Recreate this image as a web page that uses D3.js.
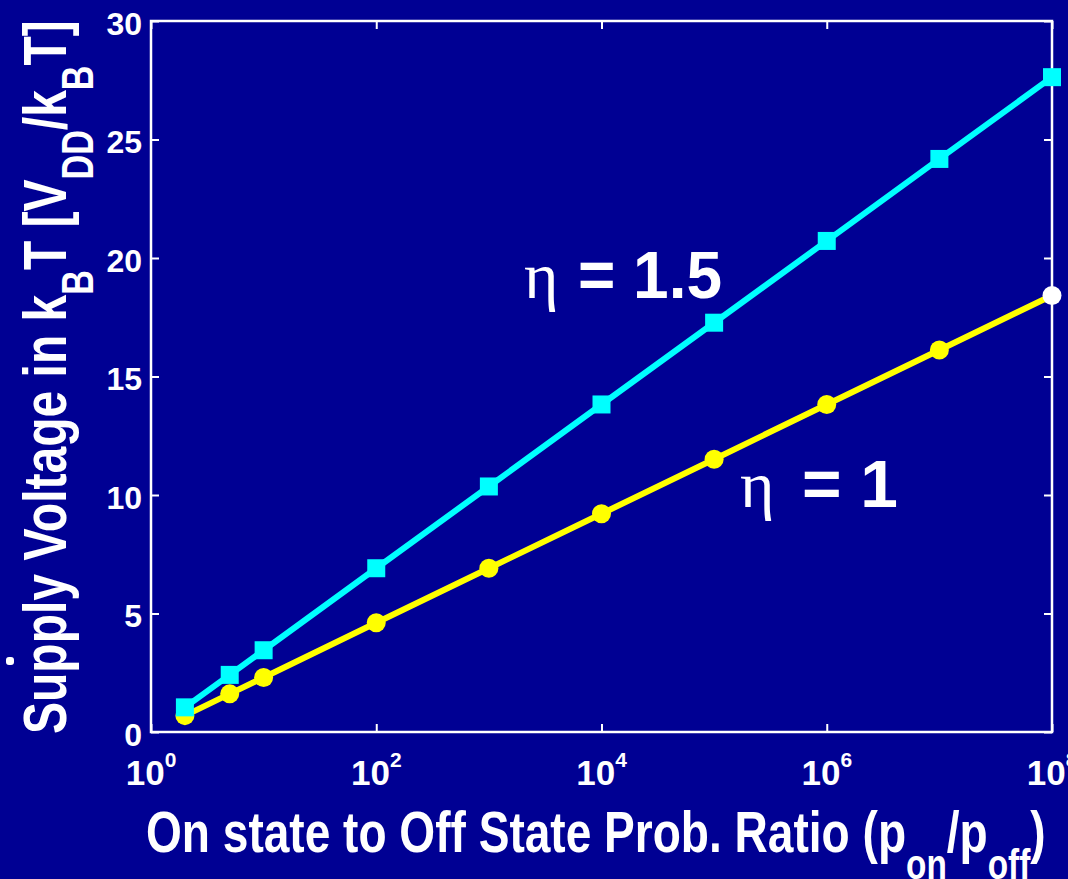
<!DOCTYPE html>
<html>
<head>
<meta charset="utf-8">
<script src="https://cdn.jsdelivr.net/npm/d3@7"></script>
<style>
  html, body { margin: 0; padding: 0; background: #000093; }
  svg { display: block; }
  text { font-family: "Liberation Sans", Arial, sans-serif; fill: #ffffff; }
</style>
</head>
<body>
<script>
// Probability ratio p_on / p_off (x values)
const ratios = [2, 5, 10, 1e2, 1e3, 1e4, 1e5, 1e6, 1e7, 1e8];
// Supply voltage in units of kT for the two ideality factors
const etaHigh = [1.04, 2.41, 3.45, 6.91, 10.36, 13.82, 17.27, 20.72, 24.18, 27.63];
const etaLow = [0.69, 1.61, 2.30, 4.61, 6.91, 9.21, 11.51, 13.82, 16.12, 18.42];
// Axis ticks
const xTickValues = [1, 1e2, 1e4, 1e6, 1e8];
const xTickExponents = ["0", "2", "4", "6", "8"];
const yTickValues = [0, 5, 10, 15, 20, 25, 30];

const W = 1068, H = 879;
const plot = { left: 151, right: 1052, top: 21, bottom: 732 };

const svg = d3.select("body").append("svg")
  .attr("width", W).attr("height", H);

svg.append("rect").attr("width", W).attr("height", H).attr("fill", "#000093");

const x = d3.scaleLog().domain([1, 1e8]).range([plot.left, plot.right]);
const y = d3.scaleLinear().domain([0, 30]).range([plot.bottom, plot.top]);

// Frame
svg.append("rect")
  .attr("x", plot.left).attr("y", plot.top)
  .attr("width", plot.right - plot.left).attr("height", plot.bottom - plot.top)
  .attr("fill", "none").attr("stroke", "#ffffff").attr("stroke-width", 2.5);

function styleAxis(g) {
  g.select(".domain").remove();
  g.selectAll(".tick line").attr("stroke", "#ffffff").attr("stroke-width", 2);
}

// Inward ticks on all four sides
svg.append("g").attr("transform", `translate(0,${plot.bottom})`)
  .call(d3.axisBottom(x).tickValues(xTickValues).tickSize(-8).tickFormat(""))
  .call(styleAxis);
svg.append("g").attr("transform", `translate(0,${plot.top})`)
  .call(d3.axisTop(x).tickValues(xTickValues).tickSize(-8).tickFormat(""))
  .call(styleAxis);
svg.append("g").attr("transform", `translate(${plot.right},0)`)
  .call(d3.axisRight(y).tickValues(yTickValues).tickSize(-8).tickFormat(""))
  .call(styleAxis);

const yAxis = svg.append("g").attr("transform", `translate(${plot.left},0)`)
  .call(d3.axisLeft(y).tickValues(yTickValues).tickSize(-8).tickPadding(9).tickFormat(d3.format("d")))
  .call(styleAxis);
yAxis.selectAll(".tick text")
  .attr("fill", "#ffffff")
  .attr("dy", "0.42em")
  .style("font-family", "'Liberation Sans', Arial, sans-serif")
  .style("font-weight", "bold")
  .style("font-size", "32px");

// X tick labels as powers of ten
const xLabels = svg.append("g");
xTickValues.forEach((v, i) => {
  const t = xLabels.append("text")
    .attr("x", x(v)).attr("y", 785)
    .attr("text-anchor", "middle")
    .style("font-weight", "bold").style("font-size", "35px");
  t.append("tspan").text("10");
  t.append("tspan").attr("dy", -18).style("font-size", "21px").text(xTickExponents[i]);
});

// Series lines and markers
const line = d3.line().x((d, i) => x(ratios[i])).y(d => y(d));

svg.append("path").datum(etaLow)
  .attr("d", line).attr("fill", "none")
  .attr("stroke", "#ffff00").attr("stroke-width", 6).attr("stroke-linejoin", "round");
svg.append("g").selectAll("circle").data(etaLow).join("circle")
  .attr("cx", (d, i) => x(ratios[i])).attr("cy", d => y(d)).attr("r", 9.5)
  .attr("fill", (d, i) => i === etaLow.length - 1 ? "#ffffff" : "#ffff00");

svg.append("path").datum(etaHigh)
  .attr("d", line).attr("fill", "none")
  .attr("stroke", "#00ffff").attr("stroke-width", 6).attr("stroke-linejoin", "round");
svg.append("g").selectAll("rect").data(etaHigh).join("rect")
  .attr("x", (d, i) => x(ratios[i]) - 9).attr("y", d => y(d) - 9)
  .attr("width", 18).attr("height", 18)
  .attr("fill", "#00ffff");

// Fit a text group horizontally (along its own direction) to a target length
function fitText(textSel, targetLen) {
  const bb = textSel.node().getBBox();
  return targetLen / bb.width;
}

// X axis title
{
  const g = svg.append("g");
  const t = g.append("text").attr("x", 0).attr("y", 0)
    .style("font-weight", "bold").style("font-size", "58px");
  t.append("tspan").text("On state to Off State Prob. Ratio (p");
  t.append("tspan").attr("dy", 27).style("font-size", "42px").text("on");
  t.append("tspan").attr("dy", -27).text("/p");
  t.append("tspan").attr("dy", 27).style("font-size", "42px").text("off");
  t.append("tspan").attr("dy", -27).text(")");
  const s = fitText(t, 1046 - 146);
  g.attr("transform", `translate(146,852) scale(${s},1)`);
}

// Y axis title
{
  const g = svg.append("g");
  const t = g.append("text").attr("x", 0).attr("y", 0)
    .style("font-weight", "bold").style("font-size", "62px");
  t.append("tspan").text("Supply Voltage in k");
  t.append("tspan").attr("dy", 27).style("font-size", "44px").text("B");
  t.append("tspan").attr("dy", -27).text("T [V");
  t.append("tspan").attr("dy", 27).style("font-size", "44px").text("DD");
  t.append("tspan").attr("dy", -27).text("/k");
  t.append("tspan").attr("dy", 27).style("font-size", "44px").text("B");
  t.append("tspan").attr("dy", -27).text("T]");
  const s = fitText(t, 734 - 20);
  g.attr("transform", `translate(66,734) rotate(-90) scale(${s},1)`);
}

// Small stray mark left of the y title
svg.append("rect").attr("x", 6).attr("y", 657).attr("width", 8).attr("height", 8)
  .attr("rx", 3).attr("fill", "#ffffff");

// Series annotations
function etaLabel(x0, baseline, valueText, eqStart, eqEnd) {
  svg.append("text").attr("x", x0).attr("y", baseline)
    .style("font-family", "'Liberation Serif', 'DejaVu Serif', serif")
    .style("font-size", "66px").text("η");
  const g = svg.append("g");
  const t = g.append("text").attr("x", 0).attr("y", 0)
    .style("font-weight", "bold").style("font-size", "66px")
    .text("= " + valueText);
  const s = fitText(t, eqEnd - eqStart);
  g.attr("transform", `translate(${eqStart},${baseline}) scale(${s},1)`);
}
etaLabel(524, 298, "1.5", 578, 722);
etaLabel(740, 507, "1", 802, 898);
</script>
</body>
</html>
